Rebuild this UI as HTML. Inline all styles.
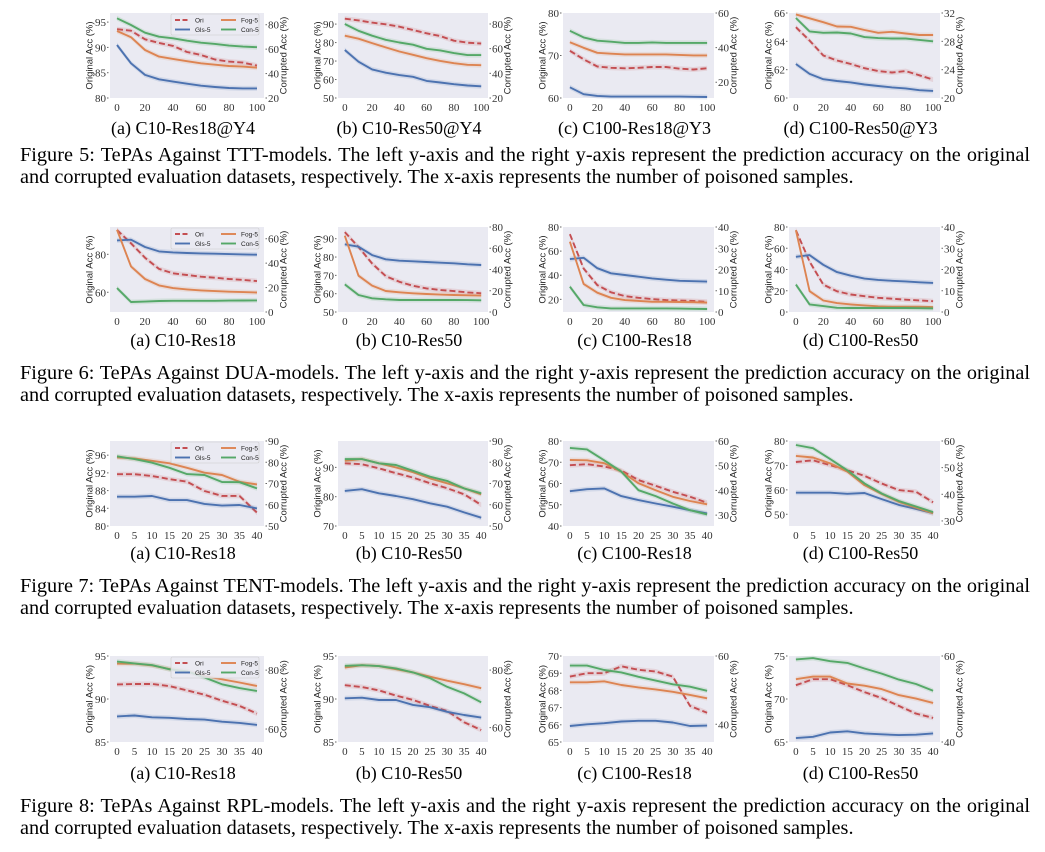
<!DOCTYPE html>
<html><head><meta charset="utf-8">
<style>
html,body{margin:0;padding:0;background:#fff;}
#wrap{position:relative;width:1045px;height:852px;overflow:hidden;background:#fff;}
svg{position:absolute;left:0;top:0;}
.cap{position:absolute;left:20px;width:1010px;font-family:"Liberation Serif",serif;font-size:20.3px;line-height:22px;color:#000;white-space:nowrap;}
.j{text-align:justify;text-align-last:justify;white-space:normal;}
</style></head>
<body>
<div id="wrap">
<svg id="svg" width="1045" height="852"></svg>
<div class="cap j" style="top:144px">Figure 5: TePAs Against TTT-models. The left y-axis and the right y-axis represent the prediction accuracy on the original</div>
<div class="cap" style="top:166px">and corrupted evaluation datasets, respectively. The x-axis represents the number of poisoned samples.</div>
<div class="cap j" style="top:362px">Figure 6: TePAs Against DUA-models. The left y-axis and the right y-axis represent the prediction accuracy on the original</div>
<div class="cap" style="top:384px">and corrupted evaluation datasets, respectively. The x-axis represents the number of poisoned samples.</div>
<div class="cap j" style="top:575px">Figure 7: TePAs Against TENT-models. The left y-axis and the right y-axis represent the prediction accuracy on the original</div>
<div class="cap" style="top:597px">and corrupted evaluation datasets, respectively. The x-axis represents the number of poisoned samples.</div>
<div class="cap j" style="top:795px">Figure 8: TePAs Against RPL-models. The left y-axis and the right y-axis represent the prediction accuracy on the original</div>
<div class="cap" style="top:817px">and corrupted evaluation datasets, respectively. The x-axis represents the number of poisoned samples.</div>
</div>
<script>
// ---- shared x data ----
const xs100 = [0,10,20,30,40,50,60,70,80,90,100];
const xs40 = [0,5,10,15,20,25,30,35,40];
const xt100 = [0,20,40,60,80,100];
const xt40 = [0,5,10,15,20,25,30,35,40];
const seriesNames = ["Ori","Gls-5","Fog-5","Con-5"];

// ---- Figure 5 (TTT) ----
const f5a_ori = [93.6,93.3,91.6,90.9,90.3,89.1,88.5,87.6,87.2,87.0,86.4];
const f5a_gls = [63.4,48.4,38.9,35.3,33.4,31.7,30.1,29.0,28.2,27.9,27.9];
const f5a_fog = [74.9,69.8,59.3,53.9,52.0,50.1,48.4,47.3,46.2,45.7,44.8];
const f5a_con = [85.3,79.8,73.5,70.2,68.9,66.9,65.3,64.3,62.9,62.1,61.6];
const f5b_ori = [92.9,92.0,90.8,89.9,88.6,86.8,85.0,83.5,81.0,79.9,79.5];
const f5b_gls = [58.9,49.4,43.2,40.5,38.6,37.2,33.9,32.6,31.2,30.1,29.5];
const f5b_fog = [70.5,68.1,64.5,61.0,57.7,55.0,52.3,50.1,48.2,46.9,46.6];
const f5b_con = [80.0,74.5,70.5,67.2,65.0,63.2,59.9,58.6,56.4,54.8,54.8];
const f5c_ori = [71.1,69.1,67.4,67.1,67.0,67.1,67.3,67.3,66.9,66.7,67.0];
const f5c_gls = [17.1,13.1,12.1,11.7,11.7,11.7,11.7,11.7,11.7,11.6,11.5];
const f5c_fog = [43.1,39.9,37.0,36.5,36.1,36.1,36.1,36.1,35.8,35.5,35.5];
const f5c_con = [49.7,45.9,44.0,43.4,42.7,42.7,43.0,42.7,42.7,42.7,42.7];
const f5d_ori = [65.0,64.05,63.0,62.65,62.4,62.1,61.9,61.8,61.9,61.6,61.3];
const f5d_gls = [24.8,23.4,22.65,22.4,22.2,21.9,21.7,21.5,21.35,21.1,21.0];
const f5d_fog = [31.8,31.25,30.7,30.1,30.05,29.6,29.2,29.35,29.1,28.9,28.9];
const f5d_con = [31.3,29.4,29.2,29.25,29.1,28.6,28.45,28.4,28.4,28.2,28.0];
// ---- Figure 6 (DUA) ----
const f6a_ori = [92.8,85.8,78.2,72.3,70.0,69.1,68.2,67.7,67.0,66.5,65.9];
const f6a_gls = [58.6,59.2,53.2,49.6,48.8,48.3,48.0,47.7,47.4,47.2,46.9];
const f6a_fog = [67.3,37.3,27.0,21.8,19.6,18.5,17.7,17.1,16.6,16.3,16.0];
const f6a_con = [19.6,8.2,8.5,9.0,9.2,9.2,9.2,9.2,9.3,9.4,9.5];
const f6b_ori = [93.6,85.5,76.5,69.6,66.5,64.3,62.9,62.0,61.4,60.7,60.2];
const f6b_gls = [63.7,61.5,53.6,49.6,48.3,47.7,47.1,46.4,45.8,44.9,44.2];
const f6b_fog = [71.8,34.2,24.8,19.8,18.5,17.6,16.9,16.4,16.0,15.7,15.4];
const f6b_con = [26.0,16.0,12.9,12.0,11.3,11.3,11.3,11.3,11.3,11.2,11.0];
const f6c_ori = [74.0,45.6,31.8,25.8,22.7,21.3,20.2,19.4,19.0,18.6,18.0];
const f6c_gls = [24.9,25.5,20.6,18.2,17.4,16.6,15.8,15.2,14.7,14.5,14.3];
const f6c_fog = [33.1,13.2,9.1,6.7,5.6,5.2,4.8,4.8,4.7,4.6,4.4];
const f6c_con = [11.9,3.3,2.2,1.7,1.7,1.7,1.7,1.7,1.6,1.5,1.4];
const f6d_ori = [76.9,47.4,25.8,19.5,16.5,14.9,13.4,12.5,11.6,10.9,10.2];
const f6d_gls = [26.0,26.8,22.2,18.8,17.1,15.7,15.1,14.7,14.4,14.0,13.7];
const f6d_fog = [38.5,9.8,5.4,4.2,3.6,3.1,2.7,2.5,2.5,2.5,2.3];
const f6d_con = [12.9,3.6,2.8,2.0,1.9,1.9,1.9,1.9,1.9,1.8,1.7];
// ---- Figure 7 (TENT) ----
const f7a_ori = [91.7,91.7,91.3,90.6,90.0,87.9,86.8,86.8,83.0];
const f7a_gls = [63.8,63.8,64.1,62.2,62.2,60.4,59.6,59.9,58.3];
const f7a_fog = [82.3,81.8,80.7,79.5,77.4,75.1,74.0,70.8,69.6];
const f7a_con = [82.8,81.5,79.8,77.4,74.4,74.0,70.7,70.6,67.7];
const f7b_ori = [91.4,91.1,89.7,88.0,86.5,84.6,82.9,80.8,77.2];
const f7b_gls = [66.5,67.3,65.4,64.1,62.6,60.7,59.1,56.4,53.9];
const f7b_fog = [80.7,81.5,79.5,77.6,75.3,72.4,70.1,67.7,64.9];
const f7b_con = [81.5,81.5,79.5,78.7,76.0,73.2,71.2,67.7,65.4];
const f7c_ori = [68.6,69.1,68.0,66.1,61.6,58.9,56.1,53.8,50.9];
const f7c_gls = [39.7,40.5,40.8,37.7,36.1,34.7,33.4,32.0,30.7];
const f7c_fog = [52.3,52.2,51.0,47.6,42.9,40.1,37.4,35.7,34.4];
const f7c_con = [57.2,56.6,52.2,47.6,40.1,37.7,34.7,32.0,30.3];
const f7d_ori = [71.4,72.1,70.1,68.1,65.7,62.6,59.9,59.2,54.9];
const f7d_gls = [40.6,40.6,40.6,40.2,40.5,38.2,36.0,34.5,32.9];
const f7d_fog = [54.4,53.8,51.6,48.5,43.4,40.1,37.2,35.0,32.9];
const f7d_con = [58.5,57.3,53.2,49.0,44.1,40.3,37.5,35.4,33.3];
// ---- Figure 8 (RPL) ----
const f8a_ori = [91.7,91.75,91.75,91.5,91.0,90.5,89.8,89.2,88.3];
const f8a_gls = [64.3,64.6,64.0,63.8,63.4,63.2,62.5,62.1,61.4];
const f8a_fog = [82.2,82.2,81.6,80.4,79.5,78.0,76.9,75.8,74.6];
const f8a_con = [82.9,82.3,81.7,80.3,79.6,77.5,75.2,73.9,72.9];
const f8b_ori = [91.6,91.4,91.0,90.4,89.9,89.2,88.6,87.3,86.4];
const f8b_gls = [70.2,70.4,69.6,69.6,67.9,67.1,65.5,64.4,63.5];
const f8b_fog = [80.9,81.7,81.4,80.3,79.2,77.7,76.3,75.1,73.7];
const f8b_con = [81.5,81.7,81.4,80.6,79.2,77.2,74.2,71.9,68.8];
const f8c_ori = [68.8,69.0,69.0,69.4,69.2,69.1,68.8,67.1,66.7];
const f8c_gls = [39.5,40.0,40.3,40.8,41.0,41.0,40.5,39.5,39.6];
const f8c_fog = [52.3,52.3,52.6,51.5,50.8,50.2,49.5,48.6,47.6];
const f8c_con = [57.2,57.2,55.9,55.2,53.9,52.8,51.7,51.0,49.8];
const f8d_ori = [71.6,72.3,72.3,71.6,70.8,70.1,69.2,68.3,67.8];
const f8d_gls = [40.9,41.2,42.2,42.5,42.0,41.8,41.6,41.7,42.0];
const f8d_fog = [54.6,55.2,55.2,53.6,53.1,52.3,50.9,50.1,49.1];
const f8d_con = [59.2,59.5,58.8,58.4,57.1,55.9,54.5,53.5,51.9];

// ---- tick arrays ----
const t5aL=[80,85,90,95], t5aR=[20,40,60,80];
const t5bL=[50,60,70,80,90], t5bR=[20,40,60,80];
const t5cL=[60,70,80], t5cR=[20,40,60];
const t5dL=[60,62,64,66], t5dR=[20,24,28,32];
const t6aL=[60,80], t6aR=[0,20,40,60];
const t6bL=[50,60,70,80,90], t6bR=[0,20,40,60,80];
const t6cL=[20,40,60,80], t6cR=[0,10,20,30,40];
const t6dL=[0,20,40,60,80], t6dR=[0,10,20,30,40];
const t7aL=[80,84,88,92,96], t7aR=[50,60,70,80,90];
const t7bL=[70,80,90], t7bR=[50,60,70,80,90];
const t7cL=[40,50,60,70,80], t7cR=[30,40,50,60];
const t7dL=[50,60,70,80], t7dR=[30,40,50,60];
const t8aL=[85,90,95], t8aR=[60,80];
const t8bL=[85,90,95], t8bR=[60,80];
const t8cL=[65,66,67,68,69,70], t8cR=[40,60];
const t8dL=[65,70,75], t8dR=[40,60];

// ---- layout (not data) ----
const COLS = [[110,264],[338,488],[563,714],[789,940]];
const ROWS = [[13,98],[227,312],[441,526],[656,742]];
const CAPY = [134,346,559,779];
const charts = [
 {id:"fig5-a",c:0,r:0,cap:"(a) C10-Res18@Y4",xs:xs100,xt:xt100,L:[80,96.8],R:[20,89.6],Lt:t5aL,Rt:t5aR,d:[f5a_ori,f5a_gls,f5a_fog,f5a_con],leg:true},
 {id:"fig5-b",c:1,r:0,cap:"(b) C10-Res50@Y4",xs:xs100,xt:xt100,L:[50,96],R:[20,88.9],Lt:t5bL,Rt:t5bR,d:[f5b_ori,f5b_gls,f5b_fog,f5b_con]},
 {id:"fig5-c",c:2,r:0,cap:"(c) C100-Res18@Y3",xs:xs100,xt:xt100,L:[60,80],R:[10.9,60],Lt:t5cL,Rt:t5cR,d:[f5c_ori,f5c_gls,f5c_fog,f5c_con]},
 {id:"fig5-d",c:3,r:0,cap:"(d) C100-Res50@Y3",xs:xs100,xt:xt100,L:[60,66],R:[20,32],Lt:t5dL,Rt:t5dR,d:[f5d_ori,f5d_gls,f5d_fog,f5d_con]},
 {id:"fig6-a",c:0,r:1,cap:"(a) C10-Res18",xs:xs100,xt:xt100,L:[49.6,94.4],R:[0,69.6],Lt:t6aL,Rt:t6aR,d:[f6a_ori,f6a_gls,f6a_fog,f6a_con],leg:true},
 {id:"fig6-b",c:1,r:1,cap:"(b) C10-Res50",xs:xs100,xt:xt100,L:[50,96.4],R:[0,80],Lt:t6bL,Rt:t6bR,d:[f6b_ori,f6b_gls,f6b_fog,f6b_con]},
 {id:"fig6-c",c:2,r:1,cap:"(c) C100-Res18",xs:xs100,xt:xt100,L:[9.5,80],R:[0,40],Lt:t6cL,Rt:t6cR,d:[f6c_ori,f6c_gls,f6c_fog,f6c_con]},
 {id:"fig6-d",c:3,r:1,cap:"(d) C100-Res50",xs:xs100,xt:xt100,L:[0,80],R:[0,40],Lt:t6dL,Rt:t6dR,d:[f6d_ori,f6d_gls,f6d_fog,f6d_con]},
 {id:"fig7-a",c:0,r:2,cap:"(a) C10-Res18",xs:xs40,xt:xt40,L:[80,99.2],R:[50,90],Lt:t7aL,Rt:t7aR,d:[f7a_ori,f7a_gls,f7a_fog,f7a_con],leg:true},
 {id:"fig7-b",c:1,r:2,cap:"(b) C10-Res50",xs:xs40,xt:xt40,L:[70,99],R:[50,90],Lt:t7bL,Rt:t7bR,d:[f7b_ori,f7b_gls,f7b_fog,f7b_con]},
 {id:"fig7-c",c:2,r:2,cap:"(c) C100-Res18",xs:xs40,xt:xt40,L:[40,80],R:[25.6,60],Lt:t7cL,Rt:t7cR,d:[f7c_ori,f7c_gls,f7c_fog,f7c_con]},
 {id:"fig7-d",c:3,r:2,cap:"(d) C100-Res50",xs:xs40,xt:xt40,L:[45.2,80],R:[28.1,60],Lt:t7dL,Rt:t7dR,d:[f7d_ori,f7d_gls,f7d_fog,f7d_con]},
 {id:"fig8-a",c:0,r:3,cap:"(a) C10-Res18",xs:xs40,xt:xt40,L:[85,95],R:[55.6,84.8],Lt:t8aL,Rt:t8aR,d:[f8a_ori,f8a_gls,f8a_fog,f8a_con],leg:true},
 {id:"fig8-b",c:1,r:3,cap:"(b) C10-Res50",xs:xs40,xt:xt40,L:[85,95],R:[55,84.9],Lt:t8bL,Rt:t8bR,d:[f8b_ori,f8b_gls,f8b_fog,f8b_con]},
 {id:"fig8-c",c:2,r:3,cap:"(c) C100-Res18",xs:xs40,xt:xt40,L:[65,70],R:[34.8,60],Lt:t8cL,Rt:t8cR,d:[f8c_ori,f8c_gls,f8c_fog,f8c_con]},
 {id:"fig8-d",c:3,r:3,cap:"(d) C100-Res50",xs:xs40,xt:xt40,L:[65,75],R:[40,60],Lt:t8dL,Rt:t8dR,d:[f8d_ori,f8d_gls,f8d_fog,f8d_con]}
];
const COLORS = ["#c44e52","#4c72b0","#dd8452","#55a868"];
const KEYS = ["ori","gls","fog","con"];
const NS = "http://www.w3.org/2000/svg";
const svg = document.getElementById("svg");
const SERIF = '"Liberation Serif", serif';
const SANS = '"Liberation Sans", "DejaVu Sans", sans-serif';

function mk(tag, attrs, parent){
  const e = document.createElementNS(NS, tag);
  for (const k in attrs) e.setAttribute(k, attrs[k]);
  (parent||svg).appendChild(e);
  return e;
}

charts.forEach(ch => {
  const x0 = COLS[ch.c][0], x1 = COLS[ch.c][1];
  const y0 = ROWS[ch.r][0], y1 = ROWS[ch.r][1];
  const xmax = ch.xs[ch.xs.length-1];
  const xlo = -0.05*xmax, xhi = 1.05*xmax;
  const sx = v => x0 + (v - xlo)/(xhi - xlo)*(x1 - x0);
  const syL = v => y1 - (v - ch.L[0])/(ch.L[1]-ch.L[0])*(y1 - y0);
  const syR = v => y1 - (v - ch.R[0])/(ch.R[1]-ch.R[0])*(y1 - y0);

  const g = mk("g", {});
  
  

  const bg = mk("rect", {x:x0, y:y0, width:x1-x0, height:y1-y0, fill:"#eaeaf2"}, g);
  
  

  ch.xt.forEach(v => {
    const t = mk("text", {x:sx(v), y:y1+13, "font-family":SERIF, "font-size":"11", "text-anchor":"middle", fill:"#333"}, g);
    t.textContent = v;
    
    
  });
  ch.Lt.forEach(v => {
    const yy = syL(v);
    const t = mk("text", {x:x0-4, y:yy+4, "font-family":SERIF, "font-size":"11", "text-anchor":"end", fill:"#333"}, g);
    t.textContent = v;
    
    
    mk("line", {x1:x0-3, x2:x0-1.5, y1:yy, y2:yy, stroke:"#666", "stroke-width":"1"}, g);
  });
  ch.Rt.forEach(v => {
    const yy = syR(v);
    const t = mk("text", {x:x1+4, y:yy+4, "font-family":SERIF, "font-size":"11", "text-anchor":"start", fill:"#333"}, g);
    t.textContent = v;
    
    
    mk("line", {x1:x1+1.5, x2:x1+3, y1:yy, y2:yy, stroke:"#666", "stroke-width":"1"}, g);
  });
  const lcx = x0 - 20, lcy = (y0+y1)/2;
  const lt = mk("text", {x:lcx, y:lcy, transform:`rotate(-90 ${lcx} ${lcy})`, "font-family":SANS, "font-size":"9.5", "text-anchor":"middle", "dominant-baseline":"middle", fill:"#222"}, g);
  lt.textContent = "Original Acc (%)";
  
  
  const rcx = x1 + 20;
  const rt = mk("text", {x:rcx, y:lcy, transform:`rotate(-90 ${rcx} ${lcy})`, "font-family":SANS, "font-size":"9.5", "text-anchor":"middle", "dominant-baseline":"middle", fill:"#222"}, g);
  rt.textContent = "Corrupted Acc (%)";
  
  

  ch.d.forEach((arr, i) => {
    const sy = i === 0 ? syL : syR;
    const pts = arr.map((v, k) => [sx(ch.xs[k]), sy(v)]);
    const up = pts.map(p => p[0].toFixed(1)+","+(p[1]-2.5).toFixed(1));
    const dn = pts.slice().reverse().map(p => p[0].toFixed(1)+","+(p[1]+2.5).toFixed(1));
    const band = mk("polygon", {points: up.concat(dn).join(" "), fill:COLORS[i], "fill-opacity":"0.15", stroke:"none"}, g);
    
    
    const attrs = {points: pts.map(p => p[0].toFixed(1)+","+p[1].toFixed(1)).join(" "), fill:"none", stroke:COLORS[i], "stroke-width":"1.9", "stroke-linejoin":"round"};
    if (i === 0) attrs["stroke-dasharray"] = "6,3";
    const ln = mk("polyline", attrs, g);
    
    
  });

  if (ch.leg) {
    const lx = x1 - 93, ly = y0 + 1;
    const lg = mk("g", {}, g);
    
    
    mk("rect", {x:lx, y:ly, width:88, height:21, fill:"#eaeaf2", "fill-opacity":"0.85", stroke:"#cccccc", "stroke-width":"0.6", rx:"1.5"}, lg);
    const order = [[0,0,0],[2,1,0],[1,0,1],[3,1,1]];
    order.forEach(o => {
      const i = o[0], ex = lx + 4 + o[1]*46, ey = ly + 6 + o[2]*9.5;
      const hl = {x1:ex, x2:ex+15, y1:ey, y2:ey, stroke:COLORS[i], "stroke-width":"1.9"};
      if (i === 0) hl["stroke-dasharray"] = "5,2.5";
      const h = mk("line", hl, lg);
      
      
      const lt2 = mk("text", {x:ex+20, y:ey+2.5, "font-family":SANS, "font-size":"6.5", fill:"#222"}, lg);
      lt2.textContent = seriesNames[i];
      
      
    });
  }

  const cp = mk("text", {x:(x0+x1)/2 - 4, y:CAPY[ch.r], "font-family":SERIF, "font-size":"18", "text-anchor":"middle", fill:"#000"});
  cp.textContent = ch.cap;
  
  
});
</script>
</body></html>
